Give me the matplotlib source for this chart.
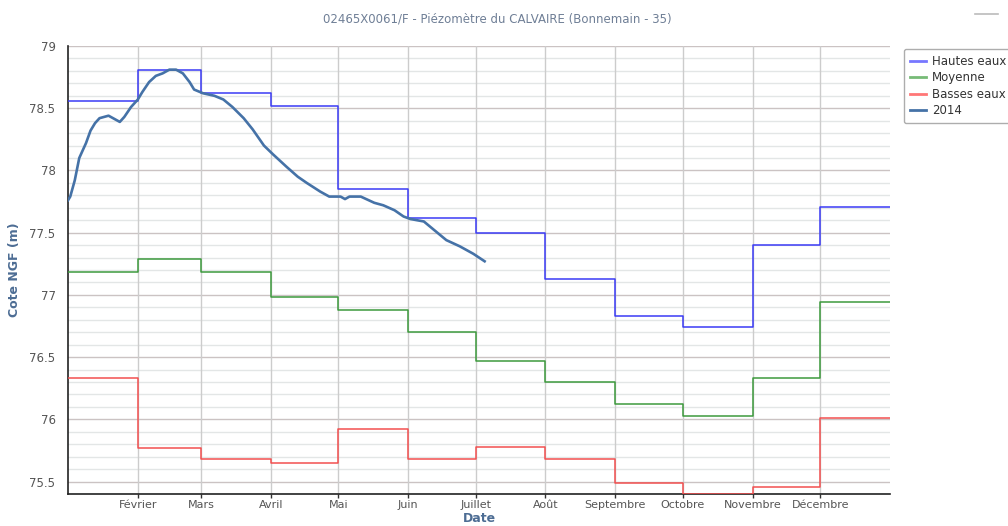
import numpy as np
import matplotlib
matplotlib.use("Agg")
import matplotlib.pyplot as plt
from matplotlib.lines import Line2D

# Statistiques mensuelles (cote NGF en m)
mois = ["Janvier", "Février", "Mars", "Avril", "Mai", "Juin", "Juillet",
        "Août", "Septembre", "Octobre", "Novembre", "Décembre"]
hautes_eaux = [78.56, 78.81, 78.62, 78.52, 77.85, 77.62, 77.50, 77.13, 76.83, 76.74, 77.40, 77.71]
moyenne = [77.18, 77.29, 77.18, 76.98, 76.88, 76.70, 76.47, 76.30, 76.12, 76.03, 76.33, 76.94]
basses_eaux = [76.33, 75.77, 75.68, 75.65, 75.92, 75.68, 75.78, 75.68, 75.49, 75.40, 75.46, 76.01]

# Chronique 2014 (jour de l'année, cote)
jours_2014 = [0, 1, 3, 5, 8, 10, 12, 14, 16, 18, 21, 23, 25, 28, 31, 33, 36, 39, 42, 45,
              48, 51, 54, 56, 60, 65, 69, 73, 78, 82, 87, 91, 97, 102, 106, 112, 116, 121,
              123, 125, 130, 136, 140, 145, 149, 152, 158, 162, 168, 174, 180, 185]
cote_2014 = [77.76, 77.79, 77.92, 78.10, 78.22, 78.32, 78.38, 78.42, 78.43, 78.44, 78.41,
             78.39, 78.43, 78.51, 78.57, 78.63, 78.71, 78.76, 78.78, 78.81, 78.81, 78.78,
             78.71, 78.65, 78.62, 78.60, 78.57, 78.51, 78.42, 78.33, 78.20, 78.13, 78.03,
             77.95, 77.90, 77.83, 77.79, 77.79, 77.77, 77.79, 77.79, 77.74, 77.72, 77.68,
             77.63, 77.61, 77.59, 77.53, 77.44, 77.39, 77.33, 77.27]

debuts_mois = np.arange("2014-01", "2015-02", dtype="datetime64[M]").astype("datetime64[D]")
dates_2014 = np.datetime64("2014-01-01") + np.array(jours_2014).astype("timedelta64[D]")

fig = plt.figure(figsize=(10.08, 5.26), dpi=100)
ax = fig.add_axes([68 / 1008, 32 / 526, 822 / 1008, 448 / 526])

# Grille
for y in np.arange(75.4, 79.01, 0.1):
    if abs(y * 2 - round(y * 2)) < 1e-6:
        ax.axhline(y, color="#cbc3c3", lw=1.0, zorder=1)
    else:
        ax.axhline(y, color="#e3e6e6", lw=1.0, zorder=1)
for d in debuts_mois[1:12]:
    ax.axvline(d, color="#cccccc", lw=1.0, zorder=1)

ax.step(debuts_mois, hautes_eaux + hautes_eaux[-1:], where="post",
        color="#3b3bf5", lw=1.1, label="Hautes eaux", zorder=3)
ax.step(debuts_mois, moyenne + moyenne[-1:], where="post",
        color="#3d9a3d", lw=1.1, label="Moyenne", zorder=3)
ax.step(debuts_mois, basses_eaux + basses_eaux[-1:], where="post",
        color="#f25050", lw=1.1, label="Basses eaux", zorder=3)
ax.plot(dates_2014, cote_2014, color="#4572a7", lw=1.9, label="2014", zorder=4)

ax.set_xlim(debuts_mois[0], debuts_mois[-1])
ax.set_ylim(75.4, 79)

ax.set_xticks(debuts_mois[1:12])
ax.set_xticklabels(mois[1:], fontsize=8, color="#555555")
ax.set_yticks(np.arange(75.5, 79.01, 0.5))
ax.set_yticklabels(["%g" % v for v in np.arange(75.5, 79.01, 0.5)], fontsize=8.5, color="#555555")
ax.tick_params(axis="x", length=3, width=1, color="#333333", pad=1)
ax.tick_params(axis="y", length=0, pad=9)

for s in ["top", "right"]:
    ax.spines[s].set_visible(False)
ax.spines["left"].set_color("#222222")
ax.spines["bottom"].set_color("#222222")
ax.spines["left"].set_linewidth(1.2)
ax.spines["bottom"].set_linewidth(1.2)

ax.set_xlabel("Date", fontsize=9, fontweight="bold", color="#4d6d94", labelpad=2)
ax.set_ylabel("Cote NGF (m)", fontsize=9, fontweight="bold", color="#4d6d94", labelpad=6)

fig.text(497 / 1008, 1 - 19 / 526, "02465X0061/F - Piézomètre du CALVAIRE (Bonnemain - 35)",
         ha="center", va="center", fontsize=8.5, color="#6f7f96")

handles = [Line2D([], [], color="#7777ff", lw=2),
           Line2D([], [], color="#77bb77", lw=2),
           Line2D([], [], color="#ff7777", lw=2),
           Line2D([], [], color="#4572a7", lw=2)]
leg = fig.legend(handles, ["Hautes eaux", "Moyenne", "Basses eaux", "2014"],
                 loc="upper left", bbox_to_anchor=(898 / 1008, 1 - 43 / 526),
                 fontsize=8.5, frameon=True, fancybox=True, handlelength=1.4,
                 handletextpad=0.5, labelspacing=0.3, borderpad=0.5, edgecolor="#999999")
leg.get_frame().set_linewidth(1.0)
for t in leg.get_texts():
    t.set_color("#333333")

# petit trait en haut à droite
fig.add_artist(Line2D([975 / 1008, 998 / 1008], [1 - 14 / 526, 1 - 14 / 526],
                      color="#bbbbbb", lw=1.2))

fig.savefig("out.png", dpi=100)
